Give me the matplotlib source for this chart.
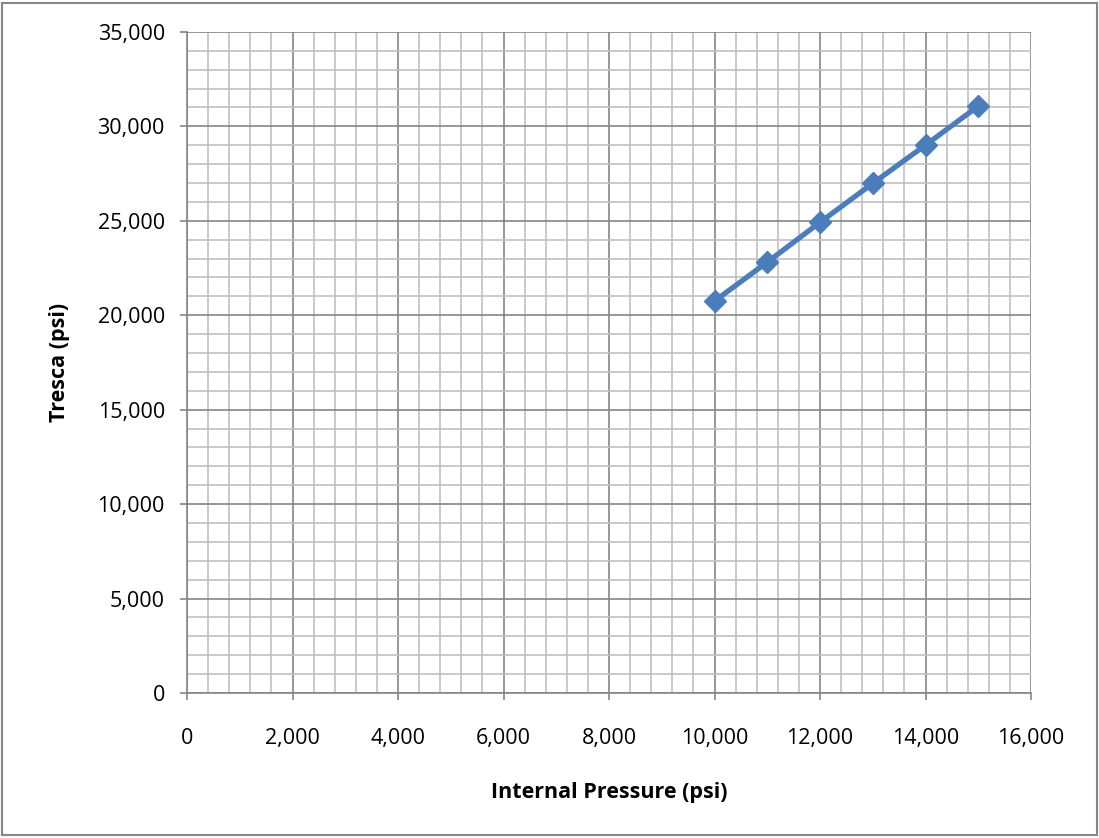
import matplotlib
matplotlib.use("Agg")
import matplotlib.pyplot as plt
from matplotlib.ticker import MultipleLocator, FuncFormatter
from matplotlib.patches import Rectangle

# data
pressure = [10000, 11000, 12000, 13000, 14000, 15000]
tresca = [20750, 22810, 24920, 26980, 29010, 31070]

plt.rcParams['font.family'] = ['Open Sans', 'DejaVu Sans']

fig = plt.figure(figsize=(10.99, 8.38), dpi=100)
ax = fig.add_axes([0.1702, 0.173, 0.768, 0.789])

ax.plot(pressure, tresca, color='#4A7EBB', linewidth=3.8, marker='D',
        markersize=11, markeredgecolor='#4A7EBB', zorder=3)

ax.set_xlim(0, 16000)
ax.set_ylim(0, 35000)
ax.xaxis.set_major_locator(MultipleLocator(2000))
ax.xaxis.set_minor_locator(MultipleLocator(400))
ax.yaxis.set_major_locator(MultipleLocator(5000))
ax.yaxis.set_minor_locator(MultipleLocator(1000))
fmt = FuncFormatter(lambda v, p: f"{int(v):,}")
ax.xaxis.set_major_formatter(fmt)
ax.yaxis.set_major_formatter(fmt)

ax.grid(which='major', color='#868686', linewidth=1.2)
ax.grid(which='minor', color='#c0c0c0', linewidth=1.2)
ax.set_axisbelow(True)

for side in ['top', 'right']:
    ax.spines[side].set_visible(False)
for side in ['left', 'bottom']:
    ax.spines[side].set_color('#868686')
    ax.spines[side].set_linewidth(1.2)

ax.tick_params(which='major', length=5, width=1.2, color='#868686',
               labelsize=15.5, pad=11)
ax.tick_params(axis='x', pad=20)
ax.tick_params(which='minor', length=0)

ax.set_xlabel('Internal Pressure (psi)', fontsize=15.5, fontweight='bold', labelpad=24)
ax.set_ylabel('Tresca (psi)', fontsize=15.5, fontweight='bold', labelpad=20)

fig.patches.append(Rectangle((0.002, 0.003), 0.996, 0.994, transform=fig.transFigure,
                             fill=False, edgecolor='#868686', linewidth=1.5))

fig.savefig('out.png', dpi=100)
